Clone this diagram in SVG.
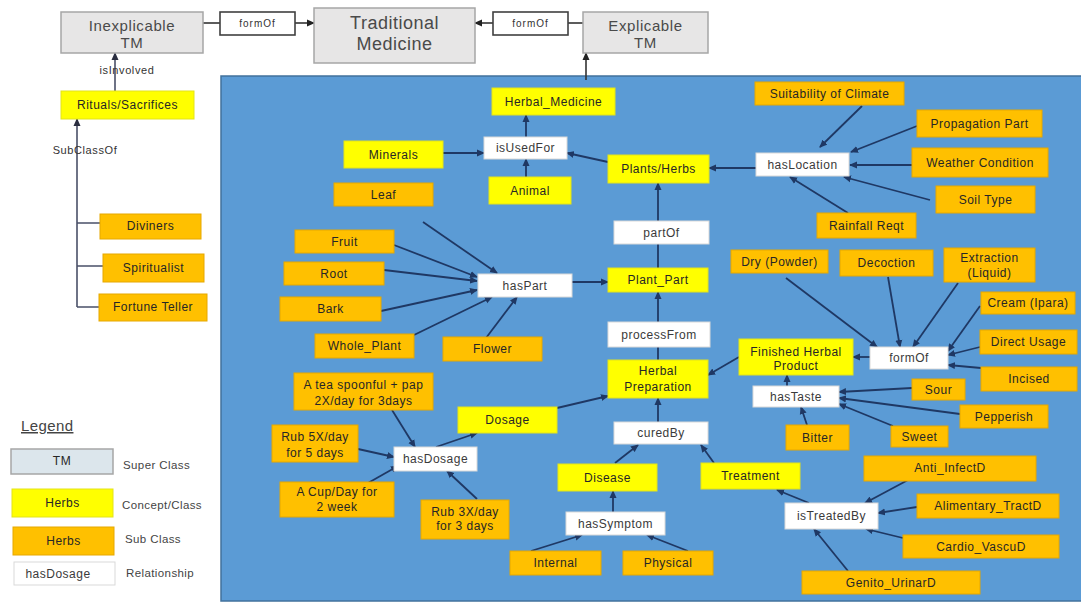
<svg xmlns="http://www.w3.org/2000/svg" width="1081" height="603" viewBox="0 0 1081 603">
<style>
text{font-family:"Liberation Sans",Arial,sans-serif;fill:#262626;text-anchor:middle;font-size:12px;letter-spacing:.5px}
.sup{fill:#e7e6e6;stroke:#a6a6a6;stroke-width:1.5}
.con{fill:#ffff00;stroke:#e3e31a;stroke-width:1}
.sub{fill:#ffc000;stroke:#e6a800;stroke-width:1}
.rel{fill:#ffffff;stroke:#d9d9d9;stroke-width:1}
.relk{fill:#ffffff;stroke:#404040;stroke-width:1.6}
.big{font-size:15px;fill:#4a4a4a;letter-spacing:.6px}
.huge{font-size:18px;fill:#4a4a4a;letter-spacing:.5px}
.sm{font-size:10px;letter-spacing:1px;fill:#333}
.lab{font-size:11px;letter-spacing:.6px;fill:#333}
.lg{text-anchor:start;font-size:11.5px;fill:#444;letter-spacing:.4px}
.rt{fill:#3a3a3a}
#connectors line,#connectors path{stroke:#1f3864;stroke-width:1.8;fill:none}
#connectors .a{marker-end:url(#ah)}
#connectors .g{stroke:#4a5068;stroke-width:1.6}
#connectors .ga{stroke:#4a5068;stroke-width:1.6;marker-end:url(#ahg)}
#connectors .k{stroke:#333;stroke-width:1.6}
#connectors .ka{stroke:#333;stroke-width:1.6;marker-end:url(#ahk)}
</style>
<defs>
<marker id="ah" markerUnits="userSpaceOnUse" markerWidth="8" markerHeight="8" refX="7" refY="4" orient="auto"><path d="M0,0.5 L8,4 L0,7.5 z" fill="#1f3864"/></marker>
<marker id="ahg" markerUnits="userSpaceOnUse" markerWidth="8" markerHeight="8" refX="7" refY="4" orient="auto"><path d="M0,0.5 L8,4 L0,7.5 z" fill="#2a2e40"/></marker>
<marker id="ahk" markerUnits="userSpaceOnUse" markerWidth="8" markerHeight="8" refX="7" refY="4" orient="auto"><path d="M0,0.5 L8,4 L0,7.5 z" fill="#222"/></marker>
</defs>
<rect x="0" y="0" width="1081" height="603" fill="#ffffff"/>
<rect id="panel" x="221" y="76" width="862" height="525" fill="#5b9bd5" stroke="#41719c" stroke-width="1.5"/>

<g id="connectors">
<line class="k" x1="203" y1="23" x2="220" y2="23"/>
<line class="ka" x1="295" y1="23" x2="314" y2="23"/>
<line class="k" x1="583" y1="23" x2="568" y2="23"/>
<line class="ka" x1="493" y1="23" x2="475" y2="23"/>
<line class="ka" x1="586" y1="80" x2="586" y2="53"/>
<line class="ga" x1="115" y1="91" x2="115" y2="53"/>
<line class="ga" x1="77" y1="307" x2="77" y2="119"/>
<path class="g" d="M77,223 H100 M77,266 H103 M77,307 H99"/>
<line class="a" x1="443" y1="153" x2="484" y2="153"/>
<line class="a" x1="526" y1="177" x2="526" y2="159"/>
<line class="a" x1="526" y1="137" x2="526" y2="115"/>
<line class="a" x1="608" y1="162" x2="567" y2="153"/>
<line class="a" x1="756" y1="168" x2="709" y2="168"/>
<line class="a" x1="862" y1="106" x2="820" y2="147"/>
<line class="a" x1="917" y1="126" x2="851" y2="152"/>
<line class="a" x1="912" y1="165" x2="850" y2="165"/>
<line class="a" x1="930" y1="200" x2="844" y2="177"/>
<line class="a" x1="848" y1="213" x2="790" y2="177"/>
<line class="a" x1="658" y1="221" x2="658" y2="183"/>
<line x1="658" y1="268" x2="658" y2="244"/>
<line class="a" x1="572" y1="282" x2="608" y2="282"/>
<line class="a" x1="658" y1="322" x2="658" y2="292"/>
<line x1="658" y1="360" x2="658" y2="347"/>
<line class="a" x1="423" y1="222" x2="497" y2="273"/>
<line class="a" x1="394" y1="245" x2="477" y2="277"/>
<line class="a" x1="384" y1="270" x2="477" y2="281"/>
<line class="a" x1="381" y1="311" x2="477" y2="290"/>
<line class="a" x1="414" y1="335" x2="492" y2="297"/>
<line class="a" x1="486" y1="338" x2="517" y2="297"/>
<line class="a" x1="658" y1="422" x2="658" y2="398"/>
<line class="a" x1="615" y1="463" x2="638" y2="445"/>
<line class="a" x1="714" y1="463" x2="701" y2="445"/>
<line class="a" x1="613" y1="512" x2="613" y2="491"/>
<line class="a" x1="531" y1="551" x2="582" y2="535"/>
<line class="a" x1="688" y1="551" x2="647" y2="535"/>
<line class="a" x1="809" y1="503" x2="777" y2="490"/>
<line class="a" x1="908" y1="480" x2="865" y2="503"/>
<line class="a" x1="917" y1="507" x2="878" y2="513"/>
<line class="a" x1="903" y1="538" x2="866" y2="529"/>
<line class="a" x1="848" y1="571" x2="814" y2="529"/>
<line class="a" x1="739" y1="357" x2="708" y2="375"/>
<line class="a" x1="870" y1="357" x2="853" y2="357"/>
<line class="a" x1="787" y1="386" x2="787" y2="375"/>
<line class="a" x1="786" y1="278" x2="877" y2="347"/>
<line class="a" x1="888" y1="277" x2="900" y2="347"/>
<line class="a" x1="958" y1="283" x2="913" y2="347"/>
<line class="a" x1="980" y1="306" x2="948" y2="351"/>
<line class="a" x1="980" y1="347" x2="948" y2="355"/>
<line class="a" x1="981" y1="368" x2="948" y2="365"/>
<line class="a" x1="912" y1="388" x2="839" y2="392"/>
<line class="a" x1="960" y1="414" x2="839" y2="398"/>
<line class="a" x1="893" y1="426" x2="839" y2="404"/>
<line class="a" x1="807" y1="425" x2="801" y2="407"/>
<line class="a" x1="392" y1="410" x2="415" y2="447"/>
<line class="a" x1="358" y1="449" x2="394" y2="457"/>
<line class="a" x1="368" y1="483" x2="398" y2="466"/>
<line class="a" x1="477" y1="499" x2="447" y2="471"/>
<line class="a" x1="436" y1="447" x2="477" y2="433"/>
<line class="a" x1="557" y1="408" x2="608" y2="396"/>
</g>

<g id="edge-labels">
<text class="lab" x="127" y="74">isInvolved</text>
<text class="lab" x="85" y="154">SubClassOf</text>
</g>

<g id="n-inexplicable"><rect class="sup" x="61" y="12" width="142" height="41"/><text class="big" x="132" y="31">Inexplicable</text><text class="big" x="132" y="48">TM</text></g>
<g id="n-formof-left"><rect class="relk" x="220" y="12" width="75" height="23"/><text class="sm" x="257.5" y="27">formOf</text></g>
<g id="n-traditional"><rect class="sup" x="314" y="8" width="161" height="55"/><text class="huge" x="394.5" y="29">Traditional</text><text class="huge" x="394.5" y="50">Medicine</text></g>
<g id="n-formof-right"><rect class="relk" x="493" y="12" width="75" height="23"/><text class="sm" x="530.5" y="27">formOf</text></g>
<g id="n-explicable"><rect class="sup" x="583" y="12" width="125" height="41"/><text class="big" x="645.5" y="31">Explicable</text><text class="big" x="645.5" y="48">TM</text></g>

<g id="n-rituals"><rect class="con" x="61" y="91" width="133" height="28"/><text x="127.5" y="109">Rituals/Sacrifices</text></g>
<g id="n-diviners"><rect class="sub" x="100" y="214" width="101" height="25"/><text x="150.5" y="230">Diviners</text></g>
<g id="n-spiritualist"><rect class="sub" x="103" y="254" width="101" height="28"/><text x="153.5" y="272">Spiritualist</text></g>
<g id="n-fortune"><rect class="sub" x="99" y="294" width="108" height="27"/><text x="153" y="311">Fortune Teller</text></g>

<g id="legend">
<text x="21" y="431" style="text-anchor:start;font-size:15px;fill:#444;text-decoration:underline;letter-spacing:.4px">Legend</text>
<rect x="11" y="449" width="102" height="25" fill="#dce6ec" stroke="#a6a6a6" stroke-width="1.5"/><text x="62" y="465">TM</text>
<text class="lg" x="123" y="469">Super Class</text>
<rect class="con" x="12" y="489" width="101" height="28"/><text x="62.5" y="507">Herbs</text>
<text class="lg" x="122" y="509">Concept/Class</text>
<rect class="sub" x="13" y="527" width="101" height="28"/><text x="63.5" y="545">Herbs</text>
<text class="lg" x="125" y="543">Sub Class</text>
<rect class="rel" x="14" y="562" width="101" height="23"/><text class="rt" x="58" y="578">hasDosage</text>
<text class="lg" x="126" y="577">Relationship</text>
</g>

<g id="n-herbal-medicine"><rect class="con" x="492" y="88" width="123" height="27"/><text x="553.5" y="106">Herbal_Medicine</text></g>
<g id="n-minerals"><rect class="con" x="344" y="141" width="99" height="27"/><text x="393.5" y="159">Minerals</text></g>
<g id="n-animal"><rect class="con" x="489" y="177" width="82" height="27"/><text x="530" y="195">Animal</text></g>
<g id="n-plants-herbs"><rect class="con" x="608" y="155" width="101" height="28"/><text x="658.5" y="173">Plants/Herbs</text></g>
<g id="n-plant-part"><rect class="con" x="608" y="268" width="100" height="24"/><text x="658" y="284">Plant_Part</text></g>
<g id="n-herbal-preparation"><rect class="con" x="608" y="360" width="100" height="38"/><text x="658" y="375">Herbal</text><text x="658" y="391">Preparation</text></g>
<g id="n-finished"><rect class="con" x="739" y="339" width="114" height="36"/><text x="796" y="356">Finished Herbal</text><text x="796" y="370">Product</text></g>
<g id="n-dosage"><rect class="con" x="458" y="407" width="99" height="26"/><text x="507.5" y="424">Dosage</text></g>
<g id="n-disease"><rect class="con" x="558" y="464" width="99" height="27"/><text x="607.5" y="482">Disease</text></g>
<g id="n-treatment"><rect class="con" x="701" y="463" width="99" height="26"/><text x="750.5" y="480">Treatment</text></g>

<g id="n-suitability"><rect class="sub" x="755" y="82" width="149" height="23"/><text x="829.5" y="98">Suitability of Climate</text></g>
<g id="n-propagation"><rect class="sub" x="917" y="110" width="125" height="27"/><text x="979.5" y="128">Propagation Part</text></g>
<g id="n-weather"><rect class="sub" x="912" y="148" width="136" height="29"/><text x="980" y="167">Weather Condition</text></g>
<g id="n-soil"><rect class="sub" x="936" y="186" width="99" height="27"/><text x="985.5" y="204">Soil Type</text></g>
<g id="n-rainfall"><rect class="sub" x="817" y="213" width="99" height="25"/><text x="866.5" y="230">Rainfall Reqt</text></g>
<g id="n-leaf"><rect class="sub" x="334" y="183" width="99" height="23"/><text x="383.5" y="199">Leaf</text></g>
<g id="n-fruit"><rect class="sub" x="295" y="230" width="99" height="23"/><text x="344.5" y="246">Fruit</text></g>
<g id="n-root"><rect class="sub" x="284" y="262" width="100" height="23"/><text x="334" y="278">Root</text></g>
<g id="n-bark"><rect class="sub" x="280" y="297" width="101" height="24"/><text x="330.5" y="313">Bark</text></g>
<g id="n-whole-plant"><rect class="sub" x="315" y="334" width="99" height="24"/><text x="364.5" y="350">Whole_Plant</text></g>
<g id="n-flower"><rect class="sub" x="443" y="337" width="99" height="24"/><text x="492.5" y="353">Flower</text></g>
<g id="n-dry"><rect class="sub" x="731" y="250" width="97" height="23"/><text x="779.5" y="266">Dry (Powder)</text></g>
<g id="n-decoction"><rect class="sub" x="840" y="250" width="93" height="26"/><text x="886.5" y="267">Decoction</text></g>
<g id="n-extraction"><rect class="sub" x="944" y="248" width="91" height="34"/><text x="989.5" y="262">Extraction</text><text x="989.5" y="277">(Liquid)</text></g>
<g id="n-cream"><rect class="sub" x="981" y="292" width="94" height="22"/><text x="1028" y="307">Cream (Ipara)</text></g>
<g id="n-direct"><rect class="sub" x="980" y="330" width="97" height="24"/><text x="1028.5" y="346">Direct Usage</text></g>
<g id="n-incised"><rect class="sub" x="981" y="367" width="96" height="24"/><text x="1029" y="383">Incised</text></g>
<g id="n-sour"><rect class="sub" x="912" y="379" width="53" height="21"/><text x="938.5" y="394">Sour</text></g>
<g id="n-pepperish"><rect class="sub" x="960" y="405" width="88" height="23"/><text x="1004" y="421">Pepperish</text></g>
<g id="n-bitter"><rect class="sub" x="786" y="425" width="63" height="25"/><text x="817.5" y="442">Bitter</text></g>
<g id="n-sweet"><rect class="sub" x="891" y="426" width="57" height="21"/><text x="919.5" y="441">Sweet</text></g>
<g id="n-teaspoon"><rect class="sub" x="294" y="373" width="139" height="37"/><text x="363.5" y="389">A tea spoonful + pap</text><text x="363.5" y="405">2X/day for 3days</text></g>
<g id="n-rub5"><rect class="sub" x="272" y="425" width="86" height="37"/><text x="315" y="441">Rub 5X/day</text><text x="315" y="457">for 5 days</text></g>
<g id="n-cup"><rect class="sub" x="280" y="482" width="114" height="35"/><text x="337" y="496">A Cup/Day for</text><text x="337" y="511">2 week</text></g>
<g id="n-rub3"><rect class="sub" x="421" y="500" width="88" height="39"/><text x="465" y="516">Rub 3X/day</text><text x="465" y="530">for 3 days</text></g>
<g id="n-internal"><rect class="sub" x="510" y="551" width="91" height="24"/><text x="555.5" y="567">Internal</text></g>
<g id="n-physical"><rect class="sub" x="623" y="551" width="90" height="24"/><text x="668" y="567">Physical</text></g>
<g id="n-anti"><rect class="sub" x="864" y="456" width="172" height="25"/><text x="950" y="472">Anti_InfectD</text></g>
<g id="n-alimentary"><rect class="sub" x="917" y="494" width="142" height="24"/><text x="988" y="510">Alimentary_TractD</text></g>
<g id="n-cardio"><rect class="sub" x="903" y="535" width="156" height="23"/><text x="981" y="551">Cardio_VascuD</text></g>
<g id="n-genito"><rect class="sub" x="802" y="571" width="178" height="23"/><text x="891" y="587">Genito_UrinarD</text></g>

<g id="n-isusedfor"><rect class="rel" x="484" y="137" width="83" height="22"/><text class="rt" x="525.5" y="152">isUsedFor</text></g>
<g id="n-haslocation"><rect class="rel" x="756" y="153" width="93" height="23"/><text class="rt" x="802.5" y="169">hasLocation</text></g>
<g id="n-partof"><rect class="rel" x="614" y="221" width="95" height="23"/><text class="rt" x="661.5" y="237">partOf</text></g>
<g id="n-haspart"><rect class="rel" x="478" y="274" width="94" height="23"/><text class="rt" x="525" y="290">hasPart</text></g>
<g id="n-processfrom"><rect class="rel" x="608" y="322" width="102" height="25"/><text class="rt" x="659" y="339">processFrom</text></g>
<g id="n-curedby"><rect class="rel" x="614" y="422" width="94" height="22"/><text class="rt" x="661" y="437">curedBy</text></g>
<g id="n-formof"><rect class="rel" x="870" y="347" width="78" height="22"/><text class="rt" x="909" y="362">formOf</text></g>
<g id="n-hastaste"><rect class="rel" x="753" y="386" width="86" height="21"/><text class="rt" x="796" y="401">hasTaste</text></g>
<g id="n-hasdosage"><rect class="rel" x="394" y="447" width="83" height="24"/><text class="rt" x="435.5" y="463">hasDosage</text></g>
<g id="n-hassymptom"><rect class="rel" x="566" y="512" width="99" height="23"/><text class="rt" x="615.5" y="528">hasSymptom</text></g>
<g id="n-istreatedby"><rect class="rel" x="785" y="503" width="93" height="26"/><text class="rt" x="831.5" y="520">isTreatedBy</text></g>
</svg>
